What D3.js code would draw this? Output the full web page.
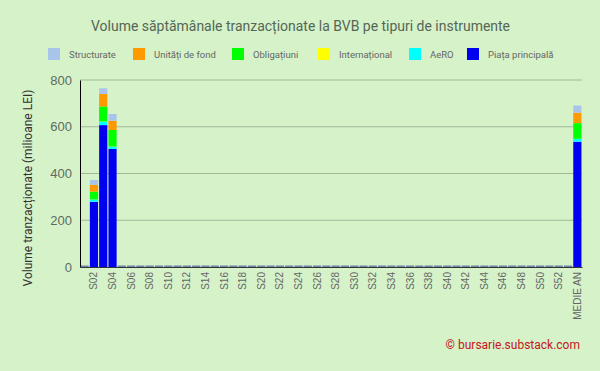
<!DOCTYPE html>
<html>
<head>
<meta charset="utf-8">
<script src="https://cdn.jsdelivr.net/npm/d3@7"></script>
<style>
  body { margin: 0; background: #d5f2c9; }
  svg { font-family: Roboto, "Noto Sans", sans-serif; }
</style>
</head>
<body>
<div id="chart"></div>
<script>
// weeks S01..S53 plus the yearly average
var weeks = [];
for (var i = 1; i <= 53; i++) weeks.push("S" + (i < 10 ? "0" + i : i));
var categories = weeks.concat(["MEDIE AN"]);

var series = ["Piața principală", "AeRO", "Internațional", "Obligațiuni", "Unități de fond", "Structurate"];
var colors = ["#0000f0", "#00ffff", "#ffff00", "#00ff00", "#ff9900", "#a9c4eb"];
var legendOrder = ["Structurate", "Unități de fond", "Obligațiuni", "Internațional", "AeRO", "Piața principală"];

// values in million LEI, only weeks 2-4 traded so far
var piata    = [0, 279, 607, 505];
var aero     = [0, 10, 15, 10];
var intl     = [0, 0.5, 0.5, 0.5];
var oblig    = [0, 33, 64, 71];
var fonduri  = [0, 29, 54, 39];
var struct   = [0, 21, 24, 29];
var medie    = [536, 12, 0.5, 67, 45, 30];

var yTicks = [0, 200, 400, 600, 800];

function pad(arr) {
  var out = arr.slice();
  while (out.length < 53) out.push(0);
  return out;
}
var cols = [pad(piata), pad(aero), pad(intl), pad(oblig), pad(fonduri), pad(struct)];
var rows = categories.map(function(c, i) {
  var r = { cat: c };
  series.forEach(function(s, k) { r[s] = i < 53 ? cols[k][i] : medie[k]; });
  return r;
});

var W = 600, H = 371;
var margin = { left: 80, right: 18, top: 80, bottom: 104 };

var svg = d3.select("#chart").append("svg")
  .attr("width", W).attr("height", H);

svg.append("rect").attr("width", W).attr("height", H).attr("fill", "#d5f2c9");

var x = d3.scaleBand().domain(categories)
  .range([margin.left, W - margin.right]).paddingInner(0.12).paddingOuter(0.06);
var y = d3.scaleLinear().domain([0, 800]).range([H - margin.bottom, margin.top]);

// gridlines
svg.append("g").selectAll("line").data(yTicks.slice(1)).enter().append("line")
  .attr("x1", margin.left).attr("x2", W - margin.right)
  .attr("y1", function(d) { return y(d); }).attr("y2", function(d) { return y(d); })
  .attr("stroke", "#a3b89a").attr("stroke-width", 1);

var stack = d3.stack().keys(series)(rows);

svg.append("g").selectAll("g").data(stack).enter().append("g")
  .attr("fill", function(d, i) { return colors[i]; })
  .selectAll("rect").data(function(d) { return d; }).enter().append("rect")
  .attr("x", function(d) { return x(d.data.cat); })
  .attr("width", x.bandwidth())
  .attr("y", function(d) { return y(d[1]); })
  .attr("height", function(d) { return Math.max(0, y(d[0]) - y(d[1])); });

// empty weeks show a faint stub at zero
svg.append("g").selectAll("rect")
  .data(rows.filter(function(r) { return d3.sum(series, function(s) { return r[s]; }) === 0; }))
  .enter().append("rect")
  .attr("x", function(d) { return x(d.cat); })
  .attr("width", x.bandwidth())
  .attr("y", y(0) - 1.5).attr("height", 1.5)
  .attr("fill", "#6d86a8");

// axes
var yAxis = svg.append("g").attr("transform", "translate(" + margin.left + ",0)")
  .call(d3.axisLeft(y).tickValues(yTicks).tickSize(0).tickPadding(8));
yAxis.select(".domain").attr("stroke", "#000");
yAxis.selectAll("text").attr("font-size", 13).attr("fill", "#5f6b5f");

var xAxis = svg.append("g").attr("transform", "translate(0," + y(0) + ")")
  .call(d3.axisBottom(x).tickValues(categories.filter(function(c, i) { return i % 2 === 1; })).tickSize(0));
xAxis.select(".domain").attr("stroke", "#333");
xAxis.selectAll("text")
  .attr("transform", "rotate(-90)")
  .attr("text-anchor", "end")
  .attr("x", -5).attr("y", 0).attr("dy", "0.35em")
  .attr("font-size", 10).attr("fill", "#666");

// title
svg.append("text").attr("x", 300.5).attr("y", 31).attr("text-anchor", "middle")
  .attr("font-size", 15).attr("fill", "#566656")
  .attr("textLength", 419).attr("lengthAdjust", "spacingAndGlyphs")
  .text("Volume săptămânale tranzacționate la BVB pe tipuri de instrumente");

// y axis title
svg.append("text")
  .attr("transform", "translate(32,188) rotate(-90)")
  .attr("text-anchor", "middle").attr("font-size", 12).attr("fill", "#333")
  .text("Volume tranzacționate (milioane LEI)");

// legend
var legendX = [48, 133, 232, 318, 409, 467];
var lg = svg.append("g").selectAll("g").data(legendOrder).enter().append("g")
  .attr("transform", function(d, i) { return "translate(" + legendX[i] + ",48)"; });
lg.append("rect").attr("width", 12).attr("height", 12)
  .attr("fill", function(d) { return colors[series.indexOf(d)]; });
lg.append("text").attr("x", 21).attr("y", 10).attr("font-size", 9.5).attr("fill", "#666")
  .text(function(d) { return d; });

// credit
svg.append("text").attr("x", 580).attr("y", 349).attr("text-anchor", "end")
  .attr("font-size", 12).attr("fill", "#c4161c")
  .text("©  bursarie.substack.com");
</script>
</body>
</html>
